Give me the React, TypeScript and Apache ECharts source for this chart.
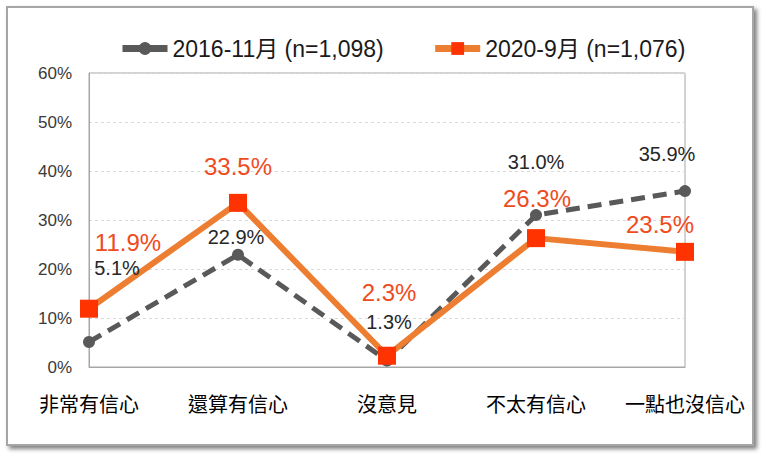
import React, { useEffect, useRef } from "react";
import * as echarts from "echarts";

const categories = ["非常有信心", "還算有信心", "沒意見", "不太有信心", "一點也沒信心"];
const series2016 = [5.1, 22.9, 1.3, 31.0, 35.9];
const series2020 = [11.9, 33.5, 2.3, 26.3, 23.5];
const name2016 = "2016-11月 (n=1,098)";
const name2020 = "2020-9月 (n=1,076)";
const offsets2016 = [[28, -74], [-2, -18], [2, -39], [0, -53], [-18, -37]];
const offsets2020 = [[39, -66], [0, -36], [2, -63], [1, -40], [-25, -27]];

const FONT = "'Liberation Sans', 'Noto Sans CJK TC', sans-serif";

export default function App() {
  const ref = useRef<HTMLDivElement>(null);
  useEffect(() => {
    document.body.style.margin = "0";
    const chart = echarts.init(ref.current!, null, { renderer: "svg" });
    chart.setOption({
      animation: false,
      backgroundColor: "#ffffff",
      graphic: [
        {
          type: "rect",
          z: -10,
          silent: true,
          shape: { x: 7, y: 7, width: 746, height: 438 },
          style: {
            fill: "#ffffff",
            stroke: "#a6a6a6",
            lineWidth: 2,
            shadowBlur: 4,
            shadowOffsetX: 3,
            shadowOffsetY: 3,
            shadowColor: "rgba(0,0,0,0.5)",
          },
        },
      ],
      legend: {
        top: 32,
        left: 114,
        itemWidth: 45,
        itemHeight: 16,
        itemGap: 48,
        textStyle: { fontSize: 23, color: "#1a1a1a", fontFamily: FONT },
        lineStyle: { type: "solid", width: 7 },
        data: [name2016, name2020],
      },
      grid: {
        left: 89,
        right: 81,
        top: 73,
        bottom: 95,
        show: true,
        borderColor: "#a6a6a6",
        borderWidth: 1,
      },
      xAxis: {
        type: "category",
        data: categories,
        boundaryGap: false,
        axisLine: { lineStyle: { color: "#a6a6a6" } },
        axisTick: { show: false },
        axisLabel: { interval: 0, fontSize: 20, color: "#000", margin: 28, fontFamily: FONT },
        splitLine: { show: false },
      },
      yAxis: {
        type: "value",
        min: 0,
        max: 60,
        interval: 10,
        axisLine: { show: true, lineStyle: { color: "#a6a6a6" } },
        axisTick: { show: false },
        axisLabel: { formatter: "{value}%", fontSize: 17, color: "#3a3a3a", margin: 17, fontFamily: FONT },
        splitLine: { lineStyle: { color: "#d9d9d9", type: [3, 3] } },
      },
      series: [
        {
          name: name2016,
          type: "line",
          data: series2016.map((v, i) => ({
            value: v,
            label: { offset: offsets2016[i] },
          })),
          symbol: "circle",
          symbolSize: 12,
          itemStyle: { color: "#595959" },
          lineStyle: { color: "#595959", width: 5, type: [14, 8] },
          label: {
            show: true,
            position: "inside",
            formatter: (p: any) => p.value.toFixed(1) + "%",
            fontSize: 20,
            color: "#262626",
            fontFamily: FONT,
          },
        },
        {
          name: name2020,
          type: "line",
          data: series2020.map((v, i) => ({
            value: v,
            label: { offset: offsets2020[i] },
          })),
          symbol: "rect",
          symbolSize: 18,
          itemStyle: { color: "#ff3300" },
          lineStyle: { color: "#ed7d31", width: 6 },
          label: {
            show: true,
            position: "inside",
            formatter: (p: any) => p.value.toFixed(1) + "%",
            fontSize: 24,
            color: "#ee4b1e",
            fontFamily: FONT,
          },
        },
      ],
    });
    return () => chart.dispose();
  }, []);
  return <div ref={ref} style={{ width: 766, height: 462, position: "absolute", left: 0, top: 0 }} />;
}
